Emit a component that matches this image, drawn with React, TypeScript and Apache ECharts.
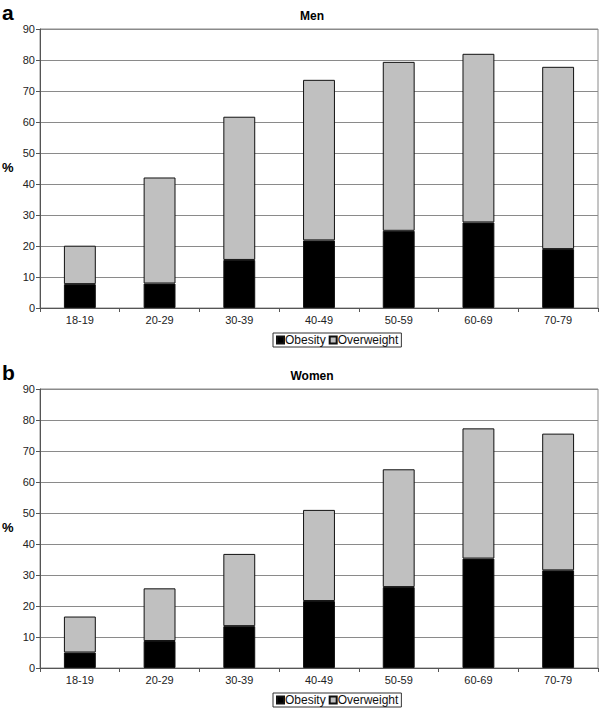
import React, { useEffect, useRef } from "react";
import * as echarts from "echarts";

const categories = ["18-19", "20-29", "30-39", "40-49", "50-59", "60-69", "70-79"];
const menObesity = [7.7, 7.9, 15.5, 21.8, 24.9, 27.6, 19.0];
const menOverweight = [12.4, 34.2, 46.2, 51.8, 54.5, 54.4, 58.8];
const womenObesity = [5.0, 8.7, 13.5, 21.6, 26.1, 35.3, 31.5];
const womenOverweight = [11.6, 17.0, 23.3, 29.4, 38.0, 42.0, 44.1];
const panelLetters = ["a", "b"];
const panelTitles = ["Men", "Women"];

const FONT = "'Liberation Sans', Arial, sans-serif";

export default function App() {
  const ref = useRef<HTMLDivElement>(null);
  useEffect(() => {
    if (!ref.current) return;
    const chart = echarts.init(ref.current, undefined, { renderer: "svg" });
    const tops = [29, 389];
    const grids = tops.map((t) => ({
      left: 40,
      top: t,
      width: 558,
      height: 279,
      show: true,
      borderColor: "#8a8a8a",
      borderWidth: 1,
      containLabel: false,
    }));
    const xAxes = tops.map((_, i) => ({
      type: "category",
      gridIndex: i,
      data: categories,
      axisLine: { lineStyle: { color: "#555", width: 1 } },
      axisTick: { show: true, alignWithLabel: false, length: 4, lineStyle: { color: "#555" } },
      axisLabel: { color: "#222", fontSize: 11, fontFamily: FONT, margin: 6 },
    }));
    const yAxes = tops.map((_, i) => ({
      type: "value",
      gridIndex: i,
      min: 0,
      max: 90,
      interval: 10,
      axisLine: { show: true, lineStyle: { color: "#555", width: 1 } },
      axisTick: { show: true, length: 4, lineStyle: { color: "#555" } },
      axisLabel: { color: "#222", fontSize: 11, fontFamily: FONT, margin: 5 },
      splitLine: { show: true, lineStyle: { color: "#8a8a8a", width: 1 } },
    }));
    const mkSeries = (name: string, data: number[], idx: number, color: string) => ({
      name,
      type: "bar",
      stack: "s" + idx,
      xAxisIndex: idx,
      yAxisIndex: idx,
      data,
      barWidth: "40%",
      itemStyle: { color, borderColor: "#111", borderWidth: 1 },
    });
    const legends = tops.map((t) => ({
      data: ["Obesity", "Overweight"],
      left: 273,
      top: t + 304,
      orient: "horizontal",
      icon: "rect",
      itemWidth: 7,
      itemHeight: 7,
      itemGap: 3,
      padding: [1, 3, 1, 3],
      borderColor: "#333",
      borderWidth: 1,
      selectedMode: false,
      textStyle: { color: "#111", fontSize: 12, fontFamily: FONT, padding: [0, 0, 0, -4] },
    }));
    const graphics: any[] = [];
    tops.forEach((t, i) => {
      graphics.push({
        type: "text",
        left: 2,
        top: t - 27,
        style: { text: panelLetters[i], font: `bold 21px ${FONT}`, fill: "#000" },
      });
      graphics.push({
        type: "text",
        x: 312,
        y: t - 13,
        style: {
          text: panelTitles[i],
          font: `bold 12px ${FONT}`,
          fill: "#000",
          textAlign: "center",
          textVerticalAlign: "middle",
        },
      });
      graphics.push({
        type: "text",
        x: 2,
        y: t + 138,
        style: { text: "%", font: `bold 13px ${FONT}`, fill: "#000", textVerticalAlign: "middle" },
      });
    });
    chart.setOption({
      animation: false,
      backgroundColor: "#fff",
      grid: grids,
      xAxis: xAxes,
      yAxis: yAxes,
      legend: legends,
      graphic: graphics,
      series: [
        mkSeries("Obesity", menObesity, 0, "#000"),
        mkSeries("Overweight", menOverweight, 0, "#c0c0c0"),
        mkSeries("Obesity", womenObesity, 1, "#000"),
        mkSeries("Overweight", womenOverweight, 1, "#c0c0c0"),
      ],
    });
    return () => chart.dispose();
  }, []);
  return (
    <div
      ref={ref}
      style={{ position: "absolute", left: 0, top: 0, width: 600, height: 713, background: "#fff" }}
    />
  );
}
